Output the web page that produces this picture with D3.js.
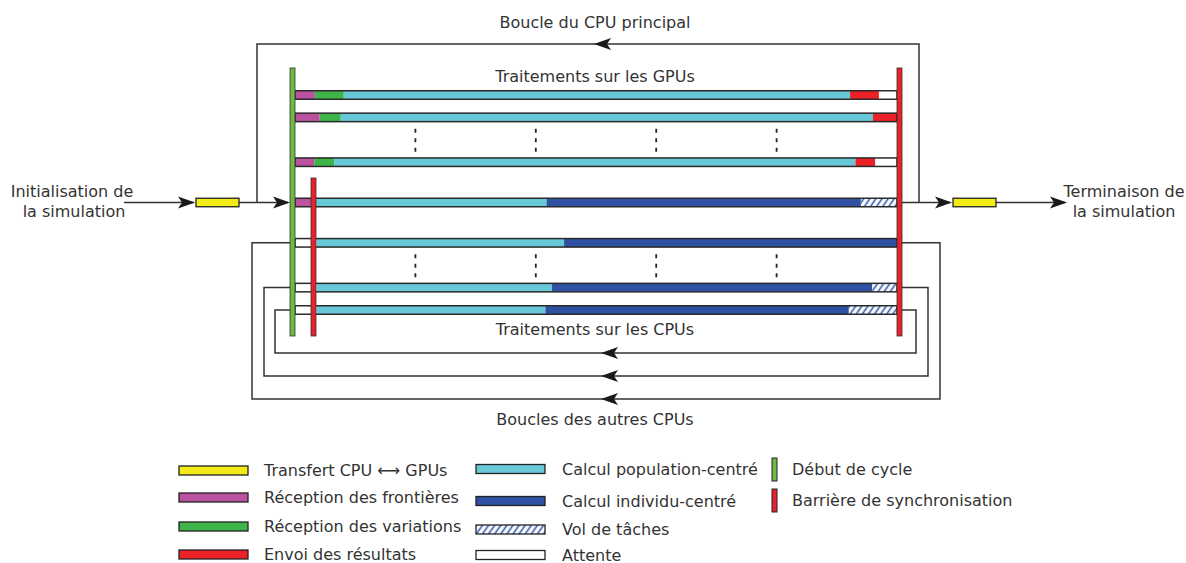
<!DOCTYPE html>
<html>
<head>
<meta charset="utf-8">
<script src="https://cdn.jsdelivr.net/npm/d3@7"></script>
<style>
    body { margin: 0; background: #fff; }
    text { font-family: "DejaVu Sans", sans-serif; fill: #333; }
</style>
</head>
<body>
<div id="chart"></div>
<script>
// durations of each phase, in % of one cycle
const gpuRow1 = [["recvBorder", 3.3], ["recvVar", 4.8], ["popCalc", 84.1], ["sendRes", 4.8], ["wait", 3.0]];
const gpuRow2 = [["recvBorder", 4.1], ["recvVar", 3.5], ["popCalc", 88.4], ["sendRes", 4.0]];
const gpuRow3 = [["recvBorder", 3.2], ["recvVar", 3.3], ["popCalc", 86.6], ["sendRes", 3.3], ["wait", 3.6]];
const cpuMain = [["recvBorder", 3.2], ["popCalc", 38.6], ["indCalc", 52.2], ["steal", 6.0]];
const cpuRow2 = [["wait", 3.6], ["popCalc", 41.1], ["indCalc", 55.3]];
const cpuRow3 = [["wait", 3.6], ["popCalc", 39.1], ["indCalc", 53.2], ["steal", 4.1]];
const cpuRow4 = [["wait", 3.6], ["popCalc", 38.0], ["indCalc", 50.4], ["steal", 8.0]];

const phaseKeys = ["transfer", "recvBorder", "recvVar", "sendRes", "popCalc", "indCalc", "steal", "wait"];
const phaseLabels = ["Transfert CPU \u27f7 GPUs", "Réception des frontières", "Réception des variations", "Envoi des résultats",
    "Calcul population-centré", "Calcul individu-centré", "Vol de tâches", "Attente"];
const markerLabels = ["Début de cycle", "Barrière de synchronisation"];

const colors = {
    transfer: "#f3eb16",
    recvBorder: "#bb52a0",
    recvVar: "#3eb549",
    sendRes: "#ec2027",
    popCalc: "#67c8d8",
    indCalc: "#2e51a3",
    steal: "url(#hatch)",
    wait: "#ffffff"
};
const startColor = "#6dbb44";
const barrierColor = "#e8212a";
const lineColor = "#333333";

const width = 1186, height = 563;

// lanes of the timeline (row index on a 22.4 px grid)
const rows = [
    { segs: gpuRow1, lane: 0 },
    { segs: gpuRow2, lane: 1 },
    { segs: gpuRow3, lane: 3 },
    { segs: cpuMain, lane: 4.8 },
    { segs: cpuRow2, lane: 6.6 },
    { segs: cpuRow3, lane: 8.6 },
    { segs: cpuRow4, lane: 9.6 }
];
const dotLanes = [2, 7.6];
const dotTimes = [20, 40, 60, 80];

const x = d3.scaleLinear().domain([0, 100]).range([295, 897]);
const y = d3.scaleLinear().domain([0, 9.6]).range([95, 310]);
const barH = 8.5;
const midX = 595;

const svg = d3.select("#chart").append("svg")
    .attr("width", width)
    .attr("height", height);

const defs = svg.append("defs");
const pattern = defs.append("pattern")
    .attr("id", "hatch")
    .attr("patternUnits", "userSpaceOnUse")
    .attr("width", 5)
    .attr("height", 5)
    .attr("patternTransform", "rotate(35)");
pattern.append("rect").attr("width", 5).attr("height", 5).attr("fill", "#fff");
pattern.append("line")
    .attr("x1", 1.5).attr("y1", 0).attr("x2", 1.5).attr("y2", 5)
    .attr("stroke", "#3358ad").attr("stroke-width", 1.6);

// stealth arrow head with its tip at (tx, ty)
function arrowHead(g, tx, ty, dir) {
    const s = dir;
    g.append("path")
        .attr("d", "M" + tx + "," + ty +
            " L" + (tx - s * 17) + "," + (ty - 6) +
            " L" + (tx - s * 13) + "," + ty +
            " L" + (tx - s * 17) + "," + (ty + 6) + " Z")
        .attr("fill", "#1a1a1a");
}

const loops = svg.append("g")
    .attr("fill", "none")
    .attr("stroke", lineColor)
    .attr("stroke-width", 1.5);

// main CPU loop
const yMain = y(4.8);
loops.append("path").attr("d", d3.line()([[257, yMain], [257, 44], [919, 44], [919, yMain]]));
arrowHead(svg, 594, 44, -1);

// other CPU loops
const cpuLoops = [
    { lane: 6.6, left: 252, right: 940, bottom: 399 },
    { lane: 8.6, left: 264, right: 928, bottom: 376 },
    { lane: 9.6, left: 275, right: 916, bottom: 353 }
];
cpuLoops.forEach(l => {
    const yy = y(l.lane);
    loops.append("path")
        .attr("d", d3.line()([[x(0), yy], [l.left, yy], [l.left, l.bottom], [l.right, l.bottom], [l.right, yy], [x(100), yy]]));
    arrowHead(svg, 601, l.bottom, -1);
});

// init / end arrows
loops.append("path").attr("d", d3.line()([[124, yMain], [194, yMain]]));
loops.append("path").attr("d", d3.line()([[239, yMain], [288, yMain]]));
loops.append("path").attr("d", d3.line()([[x(100), yMain], [950, yMain]]));
loops.append("path").attr("d", d3.line()([[996, yMain], [1065, yMain]]));
arrowHead(svg, 195, yMain, 1);
arrowHead(svg, 290, yMain, 1);
arrowHead(svg, 952, yMain, 1);
arrowHead(svg, 1067, yMain, 1);

[[196, 239], [953, 996]].forEach(b => {
    svg.append("rect")
        .attr("x", b[0]).attr("y", yMain - barH / 2)
        .attr("width", b[1] - b[0]).attr("height", barH)
        .attr("fill", colors.transfer)
        .attr("stroke", "#222").attr("stroke-width", 1.3);
});

// timeline bars
rows.forEach(r => {
    const g = svg.append("g");
    const yy = y(r.lane);
    let t = 0;
    r.segs.forEach(s => {
        g.append("rect")
            .attr("x", x(t)).attr("y", yy - barH / 2)
            .attr("width", x(t + s[1]) - x(t)).attr("height", barH)
            .attr("fill", colors[s[0]]);
        t += s[1];
    });
    g.append("rect")
        .attr("x", x(0)).attr("y", yy - barH / 2)
        .attr("width", x(100) - x(0)).attr("height", barH)
        .attr("fill", "none")
        .attr("stroke", "#2a2a2a").attr("stroke-width", 1.5);
});

// dotted separators
dotLanes.forEach(l => {
    dotTimes.forEach(t => {
        svg.append("line")
            .attr("x1", x(t)).attr("x2", x(t))
            .attr("y1", y(l) - 11).attr("y2", y(l) + 12)
            .attr("stroke", "#222").attr("stroke-width", 1.8)
            .attr("stroke-dasharray", "4,5.5");
    });
});

// cycle start and synchronisation barriers
function vBar(cx, y0, y1, fill) {
    svg.append("rect")
        .attr("x", cx - 2.5).attr("y", y0)
        .attr("width", 5).attr("height", y1 - y0)
        .attr("fill", fill)
        .attr("stroke", "#333").attr("stroke-width", 0.8);
}
vBar(292.5, 68, 336, startColor);
vBar(313.5, 178, 336, barrierColor);
vBar(899.5, 68, 336, barrierColor);

// labels
const labels = svg.append("g")
    .attr("font-size", 16)
    .attr("text-anchor", "middle");
labels.append("text").attr("x", midX).attr("y", 28).text("Boucle du CPU principal");
labels.append("text").attr("x", midX).attr("y", 82).text("Traitements sur les GPUs");
labels.append("text").attr("x", midX).attr("y", 335).text("Traitements sur les CPUs");
labels.append("text").attr("x", midX).attr("y", 425).text("Boucles des autres CPUs");
labels.append("text").attr("x", 72).attr("y", 197).text("Initialisation de");
labels.append("text").attr("x", 74).attr("y", 217).text("la simulation");
labels.append("text").attr("x", 1124).attr("y", 197).text("Terminaison de");
labels.append("text").attr("x", 1124).attr("y", 217).text("la simulation");

// legend
const legend = svg.append("g").attr("font-size", 16);
const legendCols = [
    { sx: 179, tx: 264, ys: [470.5, 497.5, 526.5, 554.5] },
    { sx: 476, tx: 562, ys: [469, 501, 529.5, 555] }
];
phaseKeys.forEach((k, i) => {
    const c = legendCols[Math.floor(i / 4)];
    const yy = c.ys[i % 4];
    legend.append("rect")
        .attr("x", c.sx).attr("y", yy - 4.5)
        .attr("width", 69).attr("height", 9)
        .attr("fill", colors[k])
        .attr("stroke", "#222").attr("stroke-width", 1.3);
    legend.append("text")
        .attr("x", c.tx).attr("y", yy + 5.5)
        .text(phaseLabels[i]);
});
[startColor, barrierColor].forEach((col, i) => {
    const yy = i === 0 ? 469.5 : 500.5;
    legend.append("rect")
        .attr("x", 772).attr("y", yy - 11.5)
        .attr("width", 5).attr("height", 23)
        .attr("fill", col)
        .attr("stroke", "#222").attr("stroke-width", 1);
    legend.append("text")
        .attr("x", 792).attr("y", yy + 5.5)
        .text(markerLabels[i]);
});
</script>
</body>
</html>
